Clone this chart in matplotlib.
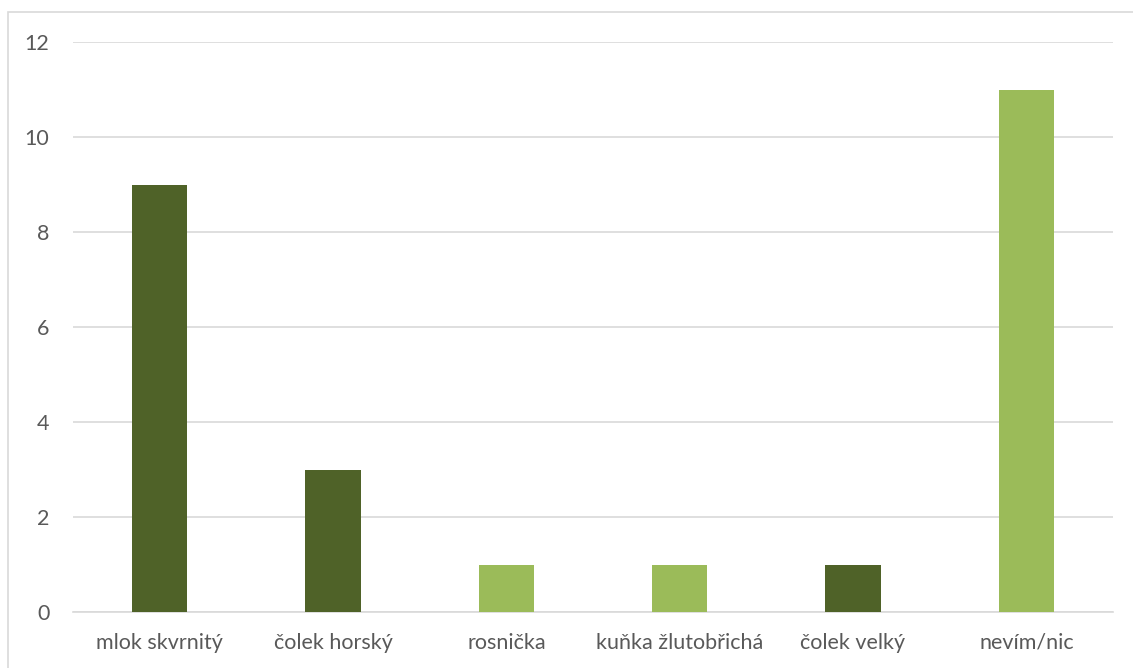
import matplotlib
matplotlib.use("Agg")
import matplotlib.pyplot as plt
from matplotlib.patches import Rectangle

categories = ["mlok skvrnitý", "čolek horský", "rosnička", "kuňka žlutobřichá", "čolek velký", "nevím/nic"]
values = [9, 3, 1, 1, 1, 11]
bar_colors = ["#4F6228", "#4F6228", "#9BBB59", "#9BBB59", "#4F6228", "#9BBB59"]
yticks = [0, 2, 4, 6, 8, 10, 12]

plt.rcParams['font.family'] = ['Lato', 'DejaVu Sans']

W, H = 1133, 668
fig = plt.figure(figsize=(W / 100, H / 100), dpi=100)
fig.patches.append(Rectangle((8 / W, -0.01), 1.02, 1 - 12 / H + 0.01,
                             transform=fig.transFigure, fill=False,
                             edgecolor="#D9D9D9", linewidth=1.2))

ax = fig.add_axes([73 / W, 1 - 612 / H, (1113 - 73) / W, (612 - 42) / H])
x = list(range(len(categories)))
ax.bar(x, values, width=0.32, color=bar_colors, zorder=3)
ax.set_xlim(-0.5, len(categories) - 0.5)
ax.set_ylim(0, 12)
ax.set_yticks(yticks)
ax.set_xticks(x)
ax.set_xticklabels(categories)
ax.grid(axis="y", color="#D9D9D9", linewidth=1.2, zorder=0)
for s in ["top", "right", "left"]:
    ax.spines[s].set_visible(False)
ax.spines["bottom"].set_color("#D9D9D9")
ax.spines["bottom"].set_linewidth(1.2)
ax.tick_params(axis="both", length=0, colors="#595959", labelsize=15.5)
ax.tick_params(axis="y", pad=17)
ax.tick_params(axis="x", pad=15)

fig.savefig("out.png", dpi=100)
